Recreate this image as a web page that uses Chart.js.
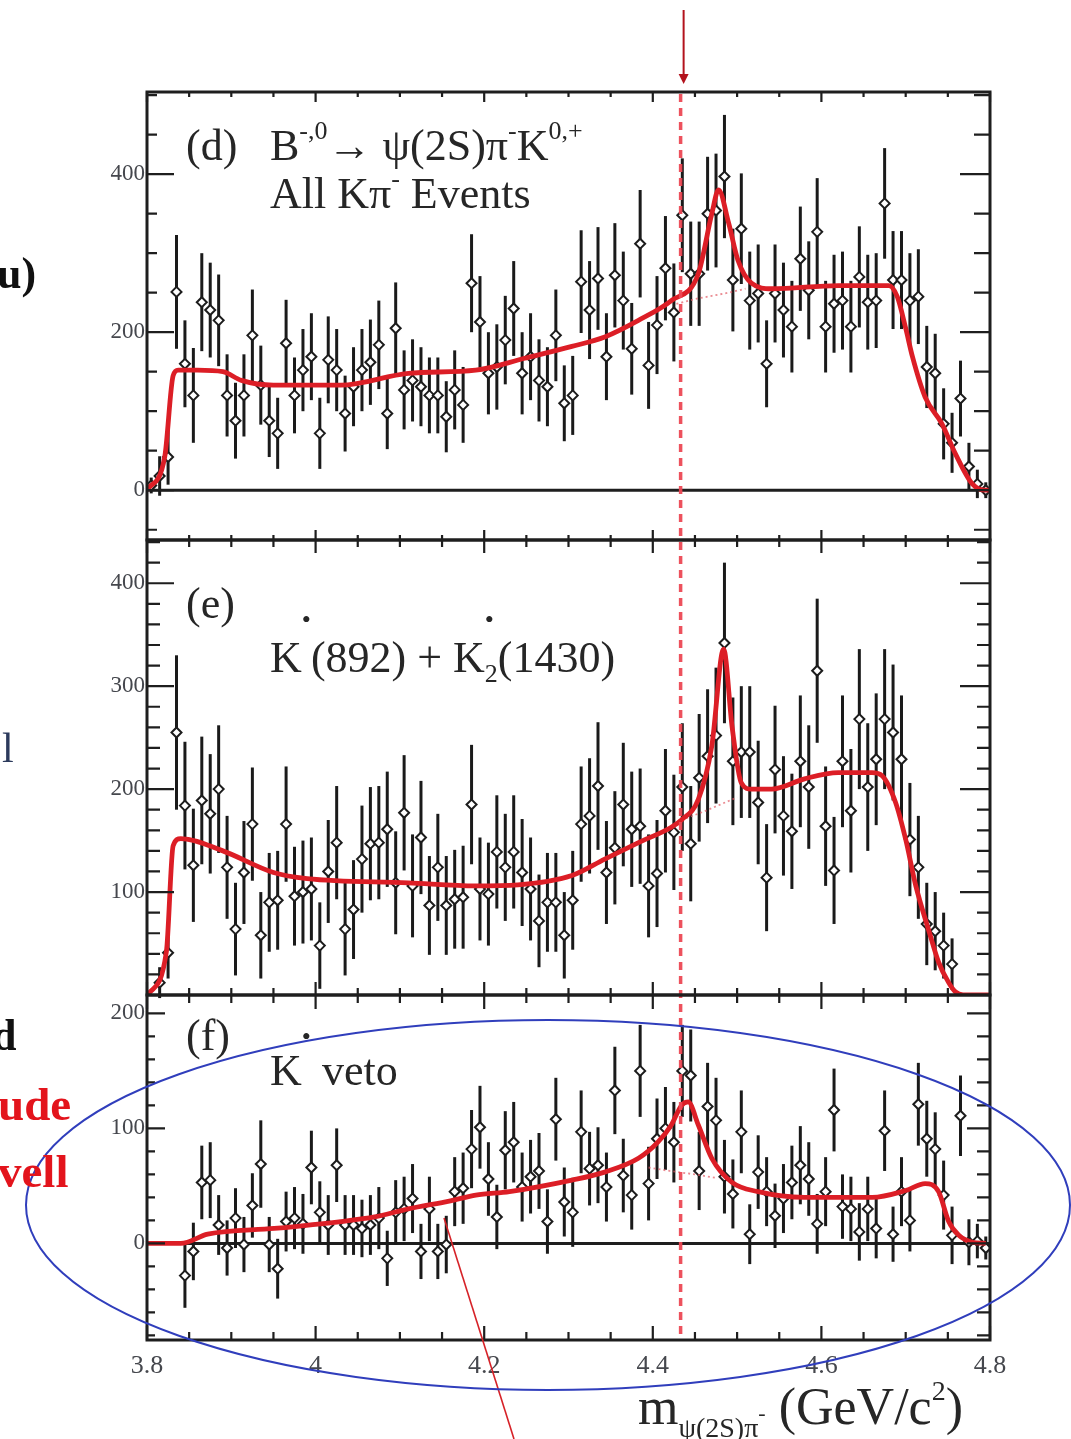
<!DOCTYPE html>
<html>
<head>
<meta charset="utf-8">
<title>m(ψ(2S)π) distributions</title>
<script src="https://cdn.jsdelivr.net/npm/chart.js@4.4.1/dist/chart.umd.min.js"></script>
<style>
  html, body { margin: 0; padding: 0; background: #fff; }
  canvas { display: block; }
</style>
</head>
<body>
<canvas id="massChart" width="1071" height="1439"></canvas>
<script>
// 100 bins of 10 MeV between 3.80 and 4.80 GeV
const binStart = 3.8
const binWidth = 0.01
const zMass = 4.433

const countsD = [
  6, 18, 42, 251, 160, 120, 238, 228, 215, 120,
  88, 120, 196, 133, 88, 72, 186, 120, 152, 169,
  72, 165, 152, 97, 131, 152, 162, 184, 97, 205,
  127, 139, 131, 120, 120, 93, 127, 108, 262, 213,
  148, 156, 190, 230, 148, 169, 139, 131, 196, 110,
  120, 264, 228, 268, 169, 272, 240, 179, 312, 158,
  209, 281, 225, 348, 274, 274, 350, 354, 397, 266,
  331, 240, 249, 160, 249, 228, 207, 293, 253, 327,
  207, 236, 240, 207, 270, 238, 240, 363, 266, 266,
  240, 245, 156, 148, 84, 60, 116, 30, 8, 0
]
const errorsD = [
  10, 25, 35, 72, 55, 60, 62, 60, 58, 52,
  48, 52, 58, 50, 46, 45, 55, 48, 52, 55,
  45, 55, 52, 48, 50, 52, 54, 56, 45, 58,
  50, 52, 50, 48, 48, 45, 50, 48, 62, 58,
  52, 54, 56, 60, 52, 55, 52, 50, 58, 48,
  50, 65, 62, 65, 55, 66, 62, 58, 68, 55,
  62, 66, 62, 72, 66, 66, 72, 72, 78, 65,
  70, 62, 62, 55, 62, 60, 58, 66, 62, 68,
  58, 62, 62, 58, 64, 60, 60, 70, 62, 62,
  60, 60, 52, 50, 45, 38, 48, 30, 18, 10
]

const countsE = [
  null, 12, 41, 255, 184, 126, 189, 176, 200, 124,
  64, 119, 166, 58, 90, 92, 166, 96, 100, 103,
  48, 120, 148, 64, 83, 132, 147, 148, 161, 109,
  177, 106, 153, 87, 124, 87, 93, 95, 185, 103,
  98, 139, 124, 139, 119, 103, 72, 90, 90, 58,
  92, 166, 174, 203, 119, 143, 185, 161, 164, 106,
  118, 179, 158, 202, 147, 211, 232, 252, 342, 227,
  236, 236, 187, 114, 219, 174, 159, 227, 202, 315,
  164, 121, 227, 179, 268, 202, 229, 268, 255, 229,
  151, 124, 69, 62, 48, 30, null, null, null, null
]
const errorsE = [
  0, 15, 25, 75, 62, 55, 62, 58, 62, 50,
  45, 50, 55, 42, 48, 48, 56, 48, 50, 50,
  42, 50, 55, 45, 48, 52, 55, 55, 56, 50,
  56, 50, 55, 48, 52, 48, 48, 50, 58, 50,
  50, 55, 52, 55, 52, 50, 45, 48, 48, 42,
  48, 56, 56, 62, 50, 55, 60, 56, 56, 50,
  52, 60, 56, 62, 56, 62, 65, 66, 78, 62,
  64, 64, 60, 52, 62, 58, 56, 64, 60, 70,
  58, 52, 64, 60, 68, 62, 64, 68, 66, 62,
  55, 50, 40, 38, 32, 25, 0, 0, 0, 0
]

const countsF = [
  null, null, null, null, -28, -7, 53, 55, 16, -4,
  22, -1, 33, 69, -1, -22, 19, 22, 17, 66,
  27, 16, 68, 16, 16, 13, 16, 22, -13, 27,
  30, 39, -7, 30, -7, -1, 45, 48, 82, 101,
  56, 23, 81, 88, 49, 58, 63, 19, 108, 36,
  27, 97, 65, 68, 49, 133, 59, 42, 150, 52,
  91, 100, 88, 150, 146, 63, 119, 107, 58, 43,
  97, 8, 62, 45, 24, 39, 53, 68, 56, 17,
  45, 116, 32, 30, 10, 30, 13, 98, 8, 45,
  20, 121, 91, 82, 42, 7, 111, 1, 2, -4
]
const errorsF = [
  0, 0, 0, 0, 28, 25, 32, 33, 26, 24,
  26, 24, 28, 38, 24, 26, 26, 27, 26, 32,
  27, 26, 32, 26, 26, 25, 26, 27, 24, 28,
  28, 30, 24, 28, 24, 25, 30, 31, 34, 36,
  32, 28, 34, 35, 30, 32, 33, 28, 36, 30,
  30, 36, 32, 33, 30, 38, 32, 30, 40, 32,
  35, 36, 35, 40, 40, 34, 38, 37, 32, 30,
  36, 26, 32, 30, 28, 30, 32, 34, 32, 26,
  30, 36, 28, 28, 25, 28, 26, 35, 24, 30,
  27, 36, 33, 32, 30, 25, 35, 20, 15, 10
]

// fitted curves (mass, entries) and the background-only part under the peak
const fitD = [
  [3.800, 0], [3.821, 42], [3.831, 145], [3.837, 152], [3.860, 152], [3.890, 150],
  [3.912, 139], [3.950, 133], [4.030, 133], [4.110, 148], [4.190, 152], [4.248, 167],
  [4.304, 182], [4.343, 194], [4.383, 215], [4.422, 240], [4.454, 274], [4.470, 350],
  [4.478, 380], [4.490, 338], [4.501, 291], [4.517, 262], [4.541, 255], [4.620, 259],
  [4.680, 259], [4.690, 245], [4.700, 205], [4.708, 169], [4.723, 118], [4.743, 84],
  [4.759, 46], [4.779, 8], [4.795, 0], [4.800, 0]
]
const bgD = [[4.428, 236], [4.450, 242], [4.470, 246], [4.490, 250], [4.510, 255]]

const fitE = [
  [3.801, 0], [3.823, 42], [3.831, 145], [3.840, 152], [3.890, 140], [3.950, 119],
  [3.990, 113], [4.110, 109], [4.190, 106], [4.240, 107], [4.304, 116], [4.343, 132],
  [4.383, 148], [4.422, 163], [4.434, 170], [4.454, 190], [4.470, 242], [4.484, 336],
  [4.494, 261], [4.505, 206], [4.517, 200], [4.541, 200], [4.580, 210], [4.620, 216],
  [4.660, 216], [4.672, 213], [4.688, 187], [4.700, 151], [4.712, 106], [4.728, 61],
  [4.739, 32], [4.751, 12], [4.759, 3], [4.768, 0], [4.800, 0]
]
const bgE = [[4.434, 170], [4.460, 178], [4.480, 185], [4.500, 192]]

const fitF = [
  [3.800, 0], [3.840, 0], [3.872, 8], [3.951, 13], [4.030, 19], [4.070, 23],
  [4.110, 30], [4.160, 37], [4.190, 42], [4.230, 45], [4.304, 55], [4.343, 62],
  [4.383, 74], [4.406, 88], [4.422, 103], [4.434, 120], [4.442, 123], [4.454, 103],
  [4.470, 74], [4.494, 53], [4.525, 45], [4.580, 40], [4.660, 40], [4.700, 46],
  [4.723, 52], [4.739, 45], [4.751, 19], [4.763, 7], [4.779, 1], [4.795, 0]
]
const bgF = [[4.395, 66], [4.420, 63], [4.450, 60], [4.475, 57]]

const yLabelsD = [0, 200, 400]
const yLabelsE = [100, 200, 300, 400]
const yLabelsF = [0, 100, 200]
const xLabels = [3.8, 4, 4.2, 4.4, 4.6, 4.8]

const serif = '"Liberation Serif", "DejaVu Serif", serif'

// the three stacked pads: pixel extent, tick spacing and tick lengths
const pads = [
  { id: 'yd', top: 92, bottom: 540, step: 50, major: 200, labels: yLabelsD, zero: true,
    tickL: [27, 10], tickR: [30, 16], tickX: [10, 5] },
  { id: 'ye', top: 540, bottom: 995, step: 20, major: 100, labels: yLabelsE, zero: false,
    tickL: [27, 13], tickR: [30, 13], tickX: [13, 7] },
  { id: 'yf', top: 995, bottom: 1340, step: 20, major: 100, labels: yLabelsF, zero: true,
    tickL: [18, 8], tickR: [23, 13], tickX: [14, 8] }
]

function histPoints(counts, errors) {
  const pts = []
  counts.forEach((v, i) => {
    if (v === null) return
    pts.push({ x: binStart + binWidth * (i + 0.5), y: v, err: errors[i] })
  })
  return pts
}
const curve = arr => arr.map(p => ({ x: p[0], y: p[1] }))

function richText(ctx, x, y, parts, color) {
  ctx.fillStyle = color
  ctx.textAlign = 'left'
  ctx.textBaseline = 'alphabetic'
  for (const p of parts) {
    ctx.font = (p.bold ? 'bold ' : '') + p.size + 'px ' + serif
    ctx.fillText(p.t, x, y + (p.dy || 0))
    if (!p.stack) x += ctx.measureText(p.t).width
  }
  return x
}

const pointsSet = (data, axis) => ({
  data, yAxisID: axis, errorBars: true, order: 2,
  pointStyle: 'rectRot', pointRadius: 5, borderWidth: 2,
  borderColor: '#1c1c1c', backgroundColor: '#ffffff'
})
const fitSet = (data, axis) => ({
  data, yAxisID: axis, order: 0, showLine: true, pointRadius: 0,
  borderColor: 'rgb(220, 30, 38)', borderWidth: 4.8, cubicInterpolationMode: 'monotone'
})
const bgSet = (data, axis) => ({
  data, yAxisID: axis, order: 1, showLine: true, pointRadius: 0,
  borderColor: 'rgba(225, 90, 100, 0.7)', borderWidth: 1.8, borderDash: [2, 3]
})

const padLayout = {
  id: 'padLayout',
  afterLayout(chart) {
    pads.forEach(p => {
      const s = chart.scales[p.id]
      s.top = p.top
      s.bottom = p.bottom
      s.height = p.bottom - p.top
      s.configure()
    })
  },
  beforeDatasetsDraw(chart) {
    const ctx = chart.ctx
    const xs = chart.scales.x
    ctx.save()
    // zero lines
    ctx.strokeStyle = '#1e1e1e'
    ctx.lineWidth = 3
    pads.forEach(p => {
      if (!p.zero) return
      const y = chart.scales[p.id].getPixelForValue(0)
      ctx.beginPath(); ctx.moveTo(xs.left, y); ctx.lineTo(xs.right, y); ctx.stroke()
    })
    // vertical error bars
    ctx.strokeStyle = '#1a1a1a'
    ctx.lineWidth = 3
    chart.data.datasets.forEach((ds, i) => {
      if (!ds.errorBars) return
      const ys = chart.scales[ds.yAxisID]
      chart.getDatasetMeta(i).data.forEach((el, j) => {
        const d = ds.data[j]
        if (!d.err) return
        ctx.beginPath()
        ctx.moveTo(el.x, ys.getPixelForValue(d.y + d.err))
        ctx.lineTo(el.x, ys.getPixelForValue(d.y - d.err))
        ctx.stroke()
      })
    })
    ctx.restore()
  },
  afterDatasetsDraw(chart) {
    const ctx = chart.ctx
    const xs = chart.scales.x
    const area = chart.chartArea
    ctx.save()

    // dashed marker line through all pads
    const zx = xs.getPixelForValue(zMass)
    ctx.strokeStyle = 'rgba(236, 72, 84, 0.95)'
    ctx.lineWidth = 3.5
    ctx.setLineDash([8, 6])
    ctx.beginPath(); ctx.moveTo(zx, area.top + 2); ctx.lineTo(zx, area.bottom); ctx.stroke()
    ctx.setLineDash([])

    // frames and inward ticks
    ctx.strokeStyle = '#1e1e1e'
    pads.forEach(p => {
      const ys = chart.scales[p.id]
      ctx.lineWidth = 3
      ctx.strokeRect(xs.left, p.top, xs.right - xs.left, p.bottom - p.top)
      ctx.lineWidth = 2.2
      for (let k = 0; k <= 20; k++) {
        const px = xs.getPixelForValue(3.8 + k * 0.05)
        const len = k % 4 === 0 ? p.tickX[0] : p.tickX[1]
        ctx.beginPath()
        ctx.moveTo(px, p.top); ctx.lineTo(px, p.top + len)
        ctx.moveTo(px, p.bottom); ctx.lineTo(px, p.bottom - len)
        ctx.stroke()
      }
      const first = Math.ceil(ys.min / p.step)
      const last = Math.floor(ys.max / p.step)
      for (let k = first; k <= last; k++) {
        const v = k * p.step
        const py = ys.getPixelForValue(v)
        const major = v % p.major === 0
        ctx.beginPath()
        ctx.moveTo(xs.left, py); ctx.lineTo(xs.left + (major ? p.tickL[0] : p.tickL[1]), py)
        ctx.moveTo(xs.right, py); ctx.lineTo(xs.right - (major ? p.tickR[0] : p.tickR[1]), py)
        ctx.stroke()
      }
      // y labels
      ctx.fillStyle = '#45474d'
      ctx.font = '23px ' + serif
      ctx.textAlign = 'right'
      ctx.textBaseline = 'middle'
      p.labels.forEach(v => ctx.fillText(String(v), xs.left - 2, ys.getPixelForValue(v)))
    })

    // x labels
    ctx.fillStyle = '#45474d'
    ctx.font = '26px ' + serif
    ctx.textAlign = 'center'
    ctx.textBaseline = 'alphabetic'
    xLabels.forEach(v => ctx.fillText(String(v), xs.getPixelForValue(v), 1373))

    // pad captions
    const ink = '#262626'
    richText(ctx, 186, 160, [{ t: '(d)', size: 44 }], ink)
    richText(ctx, 270, 160, [
      { t: 'B', size: 44 }, { t: '-,0', size: 26, dy: -21 },
      { t: '→ ψ(2S)π', size: 44 }, { t: '-', size: 26, dy: -21 },
      { t: 'K', size: 44 }, { t: '0,+', size: 26, dy: -21 }
    ], ink)
    richText(ctx, 270, 208, [
      { t: 'All Kπ', size: 44 }, { t: '-', size: 26, dy: -21 }, { t: ' Events', size: 44 }
    ], ink)

    richText(ctx, 186, 618, [{ t: '(e)', size: 44 }], ink)
    richText(ctx, 270, 672, [
      { t: 'K', size: 44 }, { t: '•', size: 26, dy: -44 },
      { t: '(892) + K', size: 44 }, { t: '•', size: 26, dy: -44, stack: true },
      { t: '2', size: 26, dy: 10 }, { t: '(1430)', size: 44 }
    ], ink)

    richText(ctx, 186, 1050, [{ t: '(f)', size: 44 }], ink)
    richText(ctx, 270, 1085, [
      { t: 'K', size: 44 }, { t: '•', size: 26, dy: -40 }, { t: ' veto', size: 44 }
    ], ink)

    // axis title
    richText(ctx, 638, 1424, [
      { t: 'm', size: 52 }, { t: 'ψ(2S)π', size: 28, dy: 13 }, { t: '-', size: 22, dy: -4 },
      { t: ' (GeV/c', size: 52 }, { t: '2', size: 28, dy: -24 }, { t: ')', size: 52 }
    ], ink)
    ctx.restore()
  },
  afterDraw(chart) {
    const ctx = chart.ctx
    const zx = chart.scales.x.getPixelForValue(zMass)
    ctx.save()

    // arrow from the top onto the marker line
    ctx.strokeStyle = '#b3131d'
    ctx.fillStyle = '#b3131d'
    ctx.lineWidth = 2
    ctx.beginPath(); ctx.moveTo(zx + 3, 10); ctx.lineTo(zx + 3, 78); ctx.stroke()
    ctx.beginPath(); ctx.moveTo(zx - 2, 74); ctx.lineTo(zx + 8, 74); ctx.lineTo(zx + 3, 84); ctx.closePath(); ctx.fill()

    // pointer line to the K* veto curve
    ctx.strokeStyle = 'rgb(214, 34, 40)'
    ctx.lineWidth = 1.6
    ctx.beginPath(); ctx.moveTo(444, 1218); ctx.lineTo(514, 1439); ctx.stroke()

    // ellipse around pad (f)
    ctx.strokeStyle = 'rgb(48, 62, 188)'
    ctx.lineWidth = 2
    ctx.beginPath(); ctx.ellipse(548, 1205, 522, 185, 0, 0, Math.PI * 2); ctx.stroke()

    // slide text running in from the left edge
    richText(ctx, -3, 288, [{ t: 'u)', size: 44, bold: true }], '#111')
    richText(ctx, 2, 762, [{ t: 'l', size: 42 }], '#2c3a5c')
    richText(ctx, -8, 1050, [{ t: 'd', size: 44, bold: true }], '#111')
    richText(ctx, -2, 1120, [{ t: 'ude', size: 47, bold: true }], '#e3141c')
    richText(ctx, -2, 1187, [{ t: 'vell', size: 47, bold: true }], '#e3141c')
    ctx.restore()
  }
}

new Chart(document.getElementById('massChart'), {
  type: 'scatter',
  data: {
    datasets: [
      pointsSet(histPoints(countsD, errorsD), 'yd'),
      bgSet(curve(bgD), 'yd'),
      fitSet(curve(fitD), 'yd'),
      pointsSet(histPoints(countsE, errorsE), 'ye'),
      bgSet(curve(bgE), 'ye'),
      fitSet(curve(fitE), 'ye'),
      pointsSet(histPoints(countsF, errorsF), 'yf'),
      bgSet(curve(bgF), 'yf'),
      fitSet(curve(fitF), 'yf')
    ]
  },
  options: {
    responsive: false,
    animation: false,
    events: [],
    layout: { padding: { left: 147, right: 81, top: 92, bottom: 99 } },
    plugins: { legend: { display: false }, tooltip: { enabled: false } },
    scales: {
      x: { type: 'linear', display: false, min: 3.8, max: 4.8 },
      yd: { type: 'linear', display: false, min: -63, max: 504 },
      ye: { type: 'linear', display: false, min: 0, max: 442 },
      yf: { type: 'linear', display: false, min: -84, max: 216 }
    }
  },
  plugins: [padLayout]
})
</script>
</body>
</html>
